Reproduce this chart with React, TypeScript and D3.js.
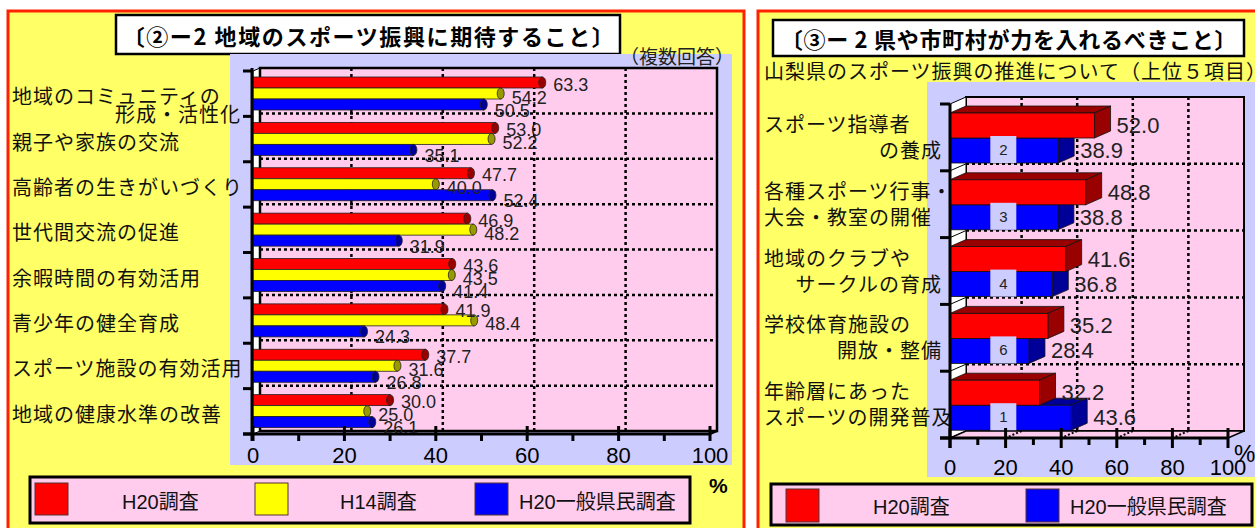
import React from 'react';
import * as d3 from 'd3';

// ---------- data ----------
const leftCategories: string[][] = [
  ['地域のコミュニティの', '形成・活性化'],
  ['親子や家族の交流'],
  ['高齢者の生きがいづくり'],
  ['世代間交流の促進'],
  ['余暇時間の有効活用'],
  ['青少年の健全育成'],
  ['スポーツ施設の有効活用'],
  ['地域の健康水準の改善'],
];
const leftH20 = [63.3, 53.0, 47.7, 46.9, 43.6, 41.9, 37.7, 30.0];
const leftH14 = [54.2, 52.2, 40.0, 48.2, 43.5, 48.4, 31.6, 25.0];
const leftGeneral = [50.5, 35.1, 52.4, 31.9, 41.4, 24.3, 26.8, 26.1];
const leftSeriesNames = ['H20調査', 'H14調査', 'H20一般県民調査'];

const rightCategories: string[][] = [
  ['スポーツ指導者', 'の養成'],
  ['各種スポーツ行事・', '大会・教室の開催'],
  ['地域のクラブや', 'サークルの育成'],
  ['学校体育施設の', '開放・整備'],
  ['年齢層にあった', 'スポーツの開発普及'],
];
const rightSecondLineAlign = ['end', 'start', 'end', 'end', 'start'];
const rightH20 = [52.0, 48.8, 41.6, 35.2, 32.2];
const rightGeneral = [38.9, 38.8, 36.8, 28.4, 43.6];
const rightGeneralRank = ['2', '3', '4', '6', '1'];
const rightSeriesNames = ['H20調査', 'H20一般県民調査'];

const xTicks = [0, 20, 40, 60, 80, 100];
const xMinorTicks = [10, 30, 50, 70, 90];

const leftTitle = '〔②ー2 地域のスポーツ振興に期待すること〕';
const leftNote = '（複数回答）';
const rightTitle = '〔③ー 2 県や市町村が力を入れるべきこと〕';
const rightSubtitle = '山梨県のスポーツ振興の推進について（上位５項目）';

// ---------- styles ----------
const JP = '"Noto Sans CJK JP", "Noto Sans", sans-serif';
const NUM = '"Liberation Sans", Arial, "Noto Sans CJK JP", sans-serif';
const YELLOW_BG = '#FFFF66';
const LAVENDER = '#CCCCFF';
const PINK = '#FFCCEE';
const leftColors = ['#FF0000', '#FFFF00', '#0000FF'];
const leftCapColors = ['#990000', '#999900', '#000099'];
const rightColors = ['#FF0000', '#0000FF'];
const rightDarkColors = ['#990000', '#000099'];

function LeftChart() {
  const x = d3.scaleLinear().domain([0, 100]).range([253, 710]);
  const y = d3.scaleBand<number>().domain(d3.range(leftCategories.length)).range([71, 434]);
  const series = [leftH20, leftH14, leftGeneral];
  const inner = d3.scaleBand<number>().domain([0, 1, 2]).range([6, 39]);
  const DX = 7, DY = -3;
  const bw = y.bandwidth();
  const top = y(0)!, bottom = y.range()[1];
  const labelDy = [2, 4, 6];
  return (
    <g>
      <rect x={8} y={11} width={736} height={530} fill={YELLOW_BG} stroke="#FF2200" strokeWidth={3} />
      <rect x={116} y={15} width={504} height={39} fill="#fff" stroke="#000" strokeWidth={2.5} />
      <text x={369} y={35} textAnchor="middle" dominantBaseline="central" fontFamily={JP} fontWeight="bold" fontSize={22} letterSpacing={1.6} fill="#000">{leftTitle}</text>
      <rect x={230} y={54} width={502} height={411} fill={LAVENDER} />
      <text x={620} y={55} dominantBaseline="central" fontFamily={JP} fontSize={19} fill="#222">{leftNote}</text>
      {/* left wall */}
      <polygon points={`${x(0)},${top} ${x(0) + DX},${top + DY} ${x(0) + DX},${bottom + DY} ${x(0)},${bottom}`} fill="#fff" stroke="#000" strokeWidth={1} />
      {/* back wall */}
      <rect x={x(0) + DX} y={top + DY} width={x(100) - x(0)} height={bottom - top} fill={PINK} stroke="#000" strokeWidth={2.5} />
      {/* grid */}
      {d3.range(1, leftCategories.length).map(i => (
        <line key={'hg' + i} x1={x(0) + DX} x2={x(100) + DX} y1={y(i)! + DY} y2={y(i)! + DY} stroke="#000" strokeWidth={2.5} strokeDasharray="3,3" />
      ))}
      {[20, 40, 60, 80].map(v => (
        <line key={'vg' + v} x1={x(v) + DX} x2={x(v) + DX} y1={top + DY} y2={bottom + DY} stroke="#000" strokeWidth={2.5} strokeDasharray="3,3" />
      ))}
      {/* category labels */}
      {leftCategories.map((lines, i) => {
        const c = y(i)! + bw / 2;
        return (
          <g key={'cl' + i}>
            <text x={12} y={c + 2} dominantBaseline="central" fontFamily={JP} fontSize={20} letterSpacing={1} fill="#111">{lines[0]}</text>
            {lines[1] && (
              <text x={241} y={c + 20} textAnchor="end" dominantBaseline="central" fontFamily={JP} fontSize={20} letterSpacing={1} fill="#111">{lines[1]}</text>
            )}
          </g>
        );
      })}
      {/* bars */}
      {leftCategories.map((_, i) =>
        series.map((s, k) => {
          const yy = y(i)! + inner(k)!;
          const h = inner.bandwidth();
          const v = s[i];
          return (
            <g key={`b${i}-${k}`}>
              <rect x={x(0)} y={yy} width={x(v) - x(0)} height={h} fill={leftColors[k]} stroke="#222" strokeWidth={0.8} />
              <ellipse cx={x(v)} cy={yy + h / 2} rx={3.5} ry={h / 2} fill={leftCapColors[k]} stroke="#222" strokeWidth={0.8} />
            </g>
          );
        })
      )}
      {/* value labels */}
      {leftCategories.map((_, i) =>
        series.map((s, k) => {
          const yy = y(i)! + inner(k)! + inner.bandwidth() / 2;
          return (
            <text key={`vl${i}-${k}`} x={x(s[i]) + 11} y={yy + labelDy[k]} dominantBaseline="central" fontFamily={NUM} fontSize={18} fill="#222">{s[i].toFixed(1)}</text>
          );
        })
      )}
      {/* axes */}
      <line x1={x(100)} y1={bottom} x2={x(100) + DX} y2={bottom + DY} stroke="#000" strokeWidth={2} />
      <line x1={252} x2={252} y1={top - 3} y2={bottom + 7} stroke="#000" strokeWidth={3} />
      {d3.range(0, leftCategories.length + 1).map(i => {
        const yy = i < leftCategories.length ? y(i)! : bottom;
        return <line key={'lt' + i} x1={243} x2={252} y1={yy} y2={yy} stroke="#000" strokeWidth={3} />;
      })}
      <line x1={243} x2={x(100) + 1} y1={bottom} y2={bottom} stroke="#000" strokeWidth={3} />
      {xTicks.map(v => (
        <line key={'mt' + v} x1={x(v)} x2={x(v)} y1={bottom - 8} y2={bottom + 7} stroke="#000" strokeWidth={3} />
      ))}
      {xMinorTicks.map(v => (
        <line key={'nt' + v} x1={x(v)} x2={x(v)} y1={bottom} y2={bottom + 7} stroke="#000" strokeWidth={3} />
      ))}
      {xTicks.map(v => (
        <text key={'tl' + v} x={x(v)} y={455} textAnchor="middle" dominantBaseline="central" fontFamily={NUM} fontSize={22} fill="#000">{v}</text>
      ))}
      <text x={709} y={485} dominantBaseline="central" fontFamily={NUM} fontWeight="bold" fontSize={21} fill="#000">%</text>
      {/* legend */}
      <rect x={30} y={477} width={660} height={46} fill={PINK} stroke="#000" strokeWidth={3} />
      {leftSeriesNames.map((name, k) => (
        <g key={'lg' + k}>
          <rect x={35 + k * 220} y={483} width={33} height={32} fill={leftColors[k]} stroke="#553333" strokeWidth={1} />
          <text x={[122, 340, 519][k]} y={502} dominantBaseline="central" fontFamily={NUM} fontSize={20} fill="#111">{name}</text>
        </g>
      ))}
    </g>
  );
}

function RightChart() {
  const x = d3.scaleLinear().domain([0, 100]).range([950, 1228]);
  const y = d3.scaleBand<number>().domain(d3.range(rightCategories.length)).range([104, 438]);
  const series = [rightH20, rightGeneral];
  const inner = d3.scaleBand<number>().domain([0, 1]).range([9, 59]);
  const DX = 16, DY = -7;
  const bw = y.bandwidth();
  const top = y(0)!, bottom = y.range()[1];
  const h = inner.bandwidth();
  const bar = (i: number, k: number) => {
    const v = series[k][i];
    const t = y(i)! + inner(k)!;
    const x0 = x(0), x1 = x(v);
    return (
      <g key={`rb${i}-${k}`} stroke="#111" strokeWidth={0.8}>
        <polygon points={`${x0},${t} ${x1},${t} ${x1 + DX},${t + DY} ${x0 + DX},${t + DY}`} fill={rightDarkColors[k]} />
        <polygon points={`${x1},${t} ${x1 + DX},${t + DY} ${x1 + DX},${t + h + DY} ${x1},${t + h}`} fill={rightDarkColors[k]} />
        <rect x={x0} y={t} width={x1 - x0} height={h} fill={rightColors[k]} />
      </g>
    );
  };
  return (
    <g>
      <rect x={758} y={11} width={520} height={530} fill={YELLOW_BG} stroke="#FF2200" strokeWidth={3} />
      <rect x={773} y={20} width={471} height={36} fill="#fff" stroke="#000" strokeWidth={2.5} />
      <text x={1009} y={38} textAnchor="middle" dominantBaseline="central" fontFamily={JP} fontWeight="bold" fontSize={22} letterSpacing={0.7} fill="#000">{rightTitle}</text>
      <rect x={927} y={82} width={340} height={395} fill={LAVENDER} />
      <text x={764} y={70} dominantBaseline="central" fontFamily={JP} fontSize={20} letterSpacing={1} fill="#111">{rightSubtitle}</text>
      {/* walls */}
      <rect x={x(0) + DX} y={top + DY} width={x(100) - x(0)} height={bottom - top} fill={PINK} stroke="#000" strokeWidth={2} />
      <polygon points={`${x(0)},${top} ${x(0) + DX},${top + DY} ${x(0) + DX},${bottom + DY} ${x(0)},${bottom}`} fill="#fff" stroke="#000" strokeWidth={1} />
      <polygon points={`${x(0)},${bottom} ${x(0) + DX},${bottom + DY} ${x(100) + DX},${bottom + DY} ${x(100)},${bottom}`} fill={PINK} stroke="#000" strokeWidth={1.5} />
      {d3.range(1, rightCategories.length).map(i => (
        <g key={'rhg' + i}>
          <line x1={x(0) + DX} x2={x(100) + DX} y1={y(i)! + DY} y2={y(i)! + DY} stroke="#000" strokeWidth={2.5} strokeDasharray="3,3" />
          <line x1={x(0)} x2={x(0) + DX} y1={y(i)!} y2={y(i)! + DY} stroke="#000" strokeWidth={1} />
        </g>
      ))}
      {[20, 40, 60, 80].map(v => (
        <g key={'rvg' + v}>
          <line x1={x(v) + DX} x2={x(v) + DX} y1={top + DY} y2={bottom + DY} stroke="#000" strokeWidth={2.5} strokeDasharray="3,3" />
          <line x1={x(v) + DX} x2={x(v)} y1={bottom + DY} y2={bottom} stroke="#000" strokeWidth={2} strokeDasharray="2,2" />
        </g>
      ))}
      {/* category labels */}
      {rightCategories.map((lines, i) => {
        const c = y(i)! + bw / 2;
        const end = rightSecondLineAlign[i] === 'end';
        return (
          <g key={'rcl' + i}>
            <text x={764} y={c - 14} dominantBaseline="central" fontFamily={JP} fontSize={20} letterSpacing={1} fill="#111">{lines[0]}</text>
            <text x={end ? 942 : 764} y={c + 12} textAnchor={end ? 'end' : 'start'} dominantBaseline="central" fontFamily={JP} fontSize={20} letterSpacing={1} fill="#111">{lines[1]}</text>
          </g>
        );
      })}
      {/* bars: blue (behind) then red */}
      {rightCategories.map((_, i) => (
        <g key={'rbars' + i}>
          {bar(i, 1)}
          {bar(i, 0)}
        </g>
      ))}
      {/* rank boxes */}
      {rightCategories.map((_, i) => {
        const t = y(i)! + inner(1)!;
        return (
          <g key={'rk' + i}>
            <rect x={x(14.5)} y={t - 2} width={26} height={27} fill={LAVENDER} />
            <text x={x(14.5) + 13} y={t + 11.5} textAnchor="middle" dominantBaseline="central" fontFamily={NUM} fontSize={15} fill="#222">{rightGeneralRank[i]}</text>
          </g>
        );
      })}
      {/* value labels */}
      {rightCategories.map((_, i) =>
        series.map((s, k) => (
          <text key={`rvl${i}-${k}`} x={x(s[i]) + 22} y={y(i)! + inner(k)! + h / 2} dominantBaseline="central" fontFamily={NUM} fontSize={22} fill="#222">{s[i].toFixed(1)}</text>
        ))
      )}
      {/* axes */}
      <line x1={x(0)} x2={x(0)} y1={top} y2={bottom + 10} stroke="#000" strokeWidth={3} />
      {d3.range(0, rightCategories.length + 1).map(i => {
        const yy = i < rightCategories.length ? y(i)! : bottom;
        return <line key={'rlt' + i} x1={940} x2={950} y1={yy} y2={yy} stroke="#000" strokeWidth={3} />;
      })}
      <line x1={940} x2={x(100)} y1={bottom} y2={bottom} stroke="#000" strokeWidth={3} />
      {xTicks.map(v => (
        <line key={'rmt' + v} x1={x(v)} x2={x(v)} y1={bottom - 10} y2={bottom + 10} stroke="#000" strokeWidth={3} />
      ))}
      {xMinorTicks.map(v => (
        <line key={'rnt' + v} x1={x(v)} x2={x(v)} y1={bottom} y2={bottom + 7} stroke="#000" strokeWidth={3} />
      ))}
      {xTicks.map(v => (
        <text key={'rtl' + v} x={x(v)} y={467} textAnchor="middle" dominantBaseline="central" fontFamily={NUM} fontSize={22} fill="#000">{v}</text>
      ))}
      <text x={1234} y={453} dominantBaseline="central" fontFamily={NUM} fontSize={24} fill="#000">%</text>
      {/* legend */}
      <rect x={771} y={484} width={481} height={41} fill={PINK} stroke="#000" strokeWidth={3} />
      {rightSeriesNames.map((name, k) => (
        <g key={'rlg' + k}>
          <rect x={[786, 1026][k]} y={489} width={33} height={33} fill={rightColors[k]} stroke="#553333" strokeWidth={1} />
          <text x={[873, 1070][k]} y={507} dominantBaseline="central" fontFamily={NUM} fontSize={20} fill="#111">{name}</text>
        </g>
      ))}
    </g>
  );
}

export default function App() {
  return (
    <svg width={1255} height={528} viewBox="0 0 1255 528" style={{ position: 'absolute', left: 0, top: 0, display: 'block', background: '#fff' }}>
      <LeftChart />
      <RightChart />
    </svg>
  );
}
